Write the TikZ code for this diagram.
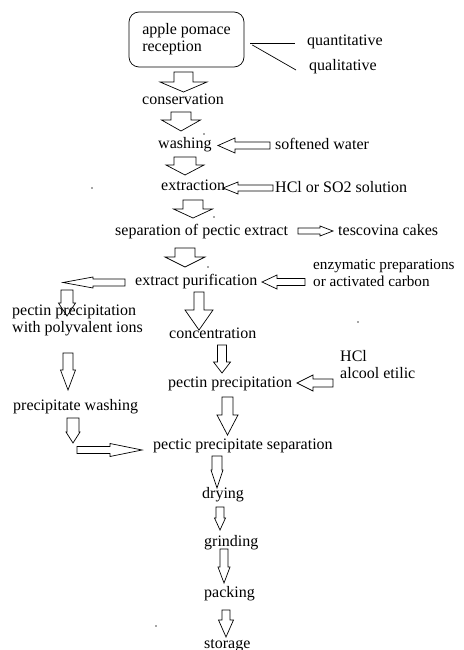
\documentclass[tikz,border=0pt]{standalone}
\usepackage{fontspec}
\setmainfont{Liberation Serif}
\usetikzlibrary{calc}
\tikzset{
  lbl/.style={anchor=west,inner sep=0pt,text height=11pt,text depth=3.5pt,font=\fontsize{16}{17}\selectfont},
  lbl2/.style={anchor=base west,inner sep=0pt,align=left,font=\fontsize{16}{17}\selectfont},
  blk/.style={draw=black,fill=white,line width=0.7pt,line join=miter},
  thin/.style={draw=black,line width=0.7pt},
  speck/.style={fill=black!70,draw=none}
}
% down block arrow: xc, ytop, yhead, ytip, shaft half, head half
\newcommand\darr[6]{\draw[blk] ({#1-#5},#2) -- ({#1+#5},#2) -- ({#1+#5},#3) -- ({#1+#6},#3) -- (#1,#4) -- ({#1-#6},#3) -- ({#1-#5},#3) -- cycle;}
% horizontal block arrow: yc, xtail, xhead, xtip, shaft half, head half
\newcommand\harr[6]{\draw[blk] (#2,{#1-#5}) -- (#3,{#1-#5}) -- (#3,{#1-#6}) -- (#4,#1) -- (#3,{#1+#6}) -- (#3,{#1+#5}) -- (#2,{#1+#5}) -- cycle;}
\begin{document}
\begin{tikzpicture}[x=1pt,y=-1pt]
\useasboundingbox[fill=white] (0,0) rectangle (463,650);
% down arrows
\darr{183.5}{72}{82}{92}{9.5}{23.5}
\darr{181}{112}{120}{131}{10}{19.5}
\darr{185}{157}{165}{175}{11}{19}
\darr{193}{200}{209}{218}{10}{19.5}
\darr{185}{248}{257}{267}{10}{20}
\darr{199}{292}{310}{330}{5}{14}
\darr{222}{345}{362}{373}{4.5}{8.5}
\darr{227.5}{397}{415}{435}{5.5}{10.5}
\darr{67}{290}{303}{316}{6}{8.5}
\darr{68}{353}{370}{390}{5}{7.5}
\darr{73}{418}{432}{443}{6}{7}
\darr{217}{456}{470}{488}{5}{6}
\darr{220}{507}{518}{530}{4}{5.5}
\darr{224}{549}{567}{583}{4}{6}
\darr{226}{610}{620}{637}{4}{7.5}
% horizontal arrows
\harr{145.5}{270}{235}{218}{3.5}{7.5}
\harr{188}{273}{238}{223}{3}{6}
\harr{231}{298}{320}{333}{3}{5}
\harr{282.5}{125}{93}{63}{3.5}{5.5}
\harr{282}{305}{277}{262}{3.5}{7}
\harr{383}{333}{313}{297}{4}{8}
\harr{450}{77}{110}{142}{3.5}{6.5}
% reception box
\node[draw,line width=0.7pt,rounded corners=10pt,minimum width=115pt,minimum height=55pt,inner sep=0pt,align=left,font=\fontsize{16}{17}\selectfont] (rec) at (186.5,39.5) {apple pomace\\reception};
\node[lbl] (quant) at (307,42) {quantitative};
\node[lbl] (qual) at (309,67) {qualitative};
\coordinate (q1) at (295,43);
\coordinate (q2) at (296,70);
\draw[thin] ($(rec.east)+(6,3.5)$) -- (q1);
\draw[thin] ($(rec.east)+(8,5.5)$) -- (q2);
% labels
\node[lbl] (cons) at (142,101) {conservation};
\node[lbl] (wash) at (158,145) {washing};
\node[lbl] (soft) at (275,146) {softened water};
\node[lbl] (extr) at (161,187) {extraction};
\node[lbl] (hcl) at (275,189) {HCl or SO2 solution};
\node[lbl] (sep) at (115,232) {separation of pectic extract};
\node[lbl] (tesc) at (338,232) {tescovina cakes};
\node[lbl] (pur) at (135,282) {extract purification};
\node[lbl2,font=\fontsize{15.2}{16.5}\selectfont] (enz) at (313,286) {enzymatic preparations\\or activated carbon};
\node[lbl2] (ppi) at (12,332.5) {pectin precipitation\\with polyvalent ions};
\node[lbl] (pw) at (13,407) {precipitate washing};
\node[lbl] (conc) at (169,335) {concentration};
\node[lbl] (pp) at (168,384) {pectin precipitation};
\node[lbl2] (hcl2) at (340,378) {HCl\\alcool etilic};
\node[lbl] (pps) at (153,446) {pectic precipitate separation};
\node[lbl] (dry) at (202,495) {drying};
\node[lbl] (grind) at (204,543) {grinding};
\node[lbl] (pack) at (204,594) {packing};
\node[lbl] (stor) at (204,645) {storage};
% specks
\foreach \p in {(92,188),(204,134),(214,217),(208,267),(358,322),(156,626)}
  \fill[speck] \p circle (0.9);
\end{tikzpicture}
\end{document}
